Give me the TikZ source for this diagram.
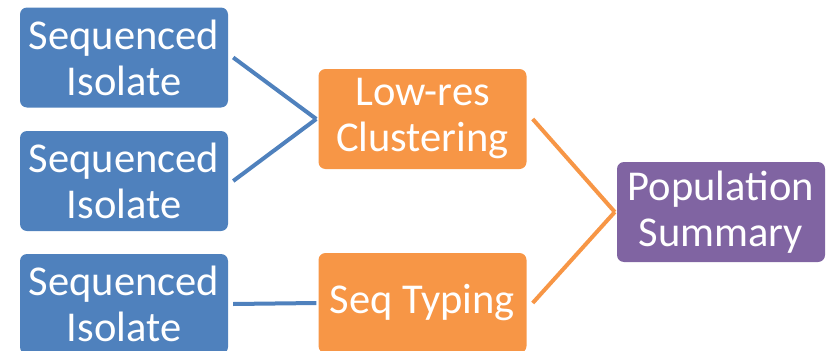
\documentclass[tikz,border=0pt]{standalone}
\usepackage{fontspec}
\setmainfont{Carlito}
\usepackage{tikz}
\usetikzlibrary{positioning, calc}
\definecolor{isolateBlue}{HTML}{4F81BD}
\definecolor{stepOrange}{HTML}{F79646}
\definecolor{summaryPurple}{HTML}{8064A2}

\begin{document}
\begin{tikzpicture}[
    x=1pt, y=-1pt,
    box/.style={
        rounded corners=7pt, text=white,
        align=center, inner sep=0pt,
        minimum width=208pt, minimum height=100pt,
        font=\fontsize{42.5}{46}\selectfont,
    },
    link/.style={
        line width=4pt,
    },
]
\useasboundingbox (0,0) rectangle (831,351);

%--- Sequenced isolates (left column) ---
\node[box, fill=isolateBlue] (iso1) at (124,57.5) {Sequenced\\Isolate};
\node[box, fill=isolateBlue] (iso2) at (124,181) {Sequenced\\Isolate};
\node[box, fill=isolateBlue] (iso3) at (124,304) {Sequenced\\Isolate};

%--- Processing steps (middle column) ---
\node[box, fill=stepOrange] (cluster) at (422.5,119) {Low-res\\Clustering};
\node[box, fill=stepOrange] (typing) at (422.5,303) {Seq Typing};

%--- Result ---
\node[box, fill=summaryPurple] (summary) at (721,212) {Population\\Summary};

%--- Connecting lines: isolates --- steps ---
\draw[link, isolateBlue] ([xshift=5pt]iso1.east) -- ([xshift=-2pt]cluster.west);
\draw[link, isolateBlue] ([xshift=5pt]iso2.east) -- ([xshift=-2pt]cluster.west);
\draw[link, isolateBlue] ([xshift=5pt]iso3.east) -- ([xshift=-2pt]typing.west);

%--- Connecting lines: steps --- summary ---
\draw[link, stepOrange] ([xshift=6pt]cluster.east) -- ([xshift=-2pt]summary.west);
\draw[link, stepOrange] ([xshift=6pt]typing.east) -- ([xshift=-2pt]summary.west);

\end{tikzpicture}
\end{document}
